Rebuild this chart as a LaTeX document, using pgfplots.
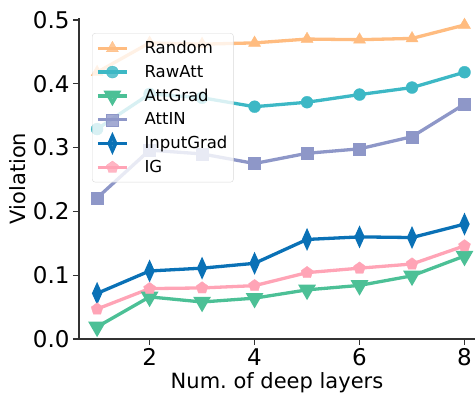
\documentclass[border=0pt]{standalone}
\usepackage{fontspec}
\setmainfont{DejaVu Sans}
\usepackage{pgfplots}
\pgfplotsset{compat=1.18}
\usetikzlibrary{plotmarks}
\definecolor{cRandom}{HTML}{FFBC80}
\definecolor{cRawAtt}{HTML}{3DB8C5}
\definecolor{cAttGrad}{HTML}{4CC096}
\definecolor{cAttIN}{HTML}{8E97C8}
\definecolor{cInputGrad}{HTML}{0A71B6}
\definecolor{cIG}{HTML}{FFA4B6}
\definecolor{spine}{HTML}{333333}
\begin{document}
\begin{tikzpicture}
\useasboundingbox (-79pt,-60pt) rectangle (396pt,339pt);
\begin{axis}[
  at={(0pt,0pt)}, anchor=south west,
  scale only axis, width=396pt, height=321pt,
  xmin=0.655, xmax=8.2, ymin=0, ymax=0.503,
  axis x line*=bottom, axis y line*=left,
  axis line style={draw=spine, line width=1.3pt, -},
  xtick={2,4,6,8}, ytick={0,0.1,0.2,0.3,0.4,0.5},
  tick align=outside, major tick length=6pt,
  tick style={draw=spine, line width=1.3pt},
  yticklabel style={/pgf/number format/.cd, fixed, fixed zerofill, precision=1},
  /pgf/number format/assume math mode=true,
  ticklabel style={font=\fontsize{23}{23}\selectfont},
  xlabel={Num.\ of deep layers}, ylabel={Violation},
  label style={font=\fontsize{21}{21}\selectfont},
  legend cell align=left,
  legend style={at={(rel axis cs:0.033,0.953)}, anchor=north west,
    fill=white, fill opacity=0.8, text opacity=1, draw=black!15, rounded corners=3pt,
    font=\fontsize{16.5}{16.5}\selectfont, row sep=6pt, inner xsep=4pt, inner ysep=6pt,
    /tikz/every odd column/.append style={column sep=14pt}},
  legend image code/.code={\draw[mark repeat=2,mark phase=2] plot coordinates {(0pt,0pt)(14.5pt,0pt)(29pt,0pt)};},
  every axis plot/.append style={line width=3.3pt, mark options={solid, line width=0.3pt}},
]
\addplot[color=cRandom, mark=triangle*, mark size=7pt] coordinates {
 (1,0.418) (2,0.464) (3,0.462) (4,0.464) (5,0.470) (6,0.469) (7,0.471) (8,0.492)};
\addlegendentry{Random}
\addplot[color=cRawAtt, mark=*, mark size=6pt] coordinates {
 (1,0.329) (2,0.384) (3,0.378) (4,0.364) (5,0.371) (6,0.383) (7,0.394) (8,0.418)};
\addlegendentry{RawAtt}
\addplot[color=cAttGrad, mark=triangle*, mark size=7pt, mark options={rotate=180}] coordinates {
 (1,0.019) (2,0.066) (3,0.058) (4,0.064) (5,0.077) (6,0.084) (7,0.099) (8,0.130)};
\addlegendentry{AttGrad}
\addplot[color=cAttIN, mark=square*, mark size=6pt] coordinates {
 (1,0.221) (2,0.296) (3,0.290) (4,0.275) (5,0.291) (6,0.298) (7,0.317) (8,0.368)};
\addlegendentry{AttIN}
\addplot[color=cInputGrad, mark=diamond*, mark size=7.5pt, mark options={xscale=0.6}] coordinates {
 (1,0.0715) (2,0.1066) (3,0.111) (4,0.1186) (5,0.156) (6,0.160) (7,0.159) (8,0.180)};
\addlegendentry{InputGrad}
\addplot[color=cIG, mark=pentagon*, mark size=6.3pt] coordinates {
 (1,0.047) (2,0.079) (3,0.080) (4,0.0836) (5,0.104) (6,0.111) (7,0.1175) (8,0.146)};
\addlegendentry{IG}
\end{axis}
\end{tikzpicture}
\end{document}
